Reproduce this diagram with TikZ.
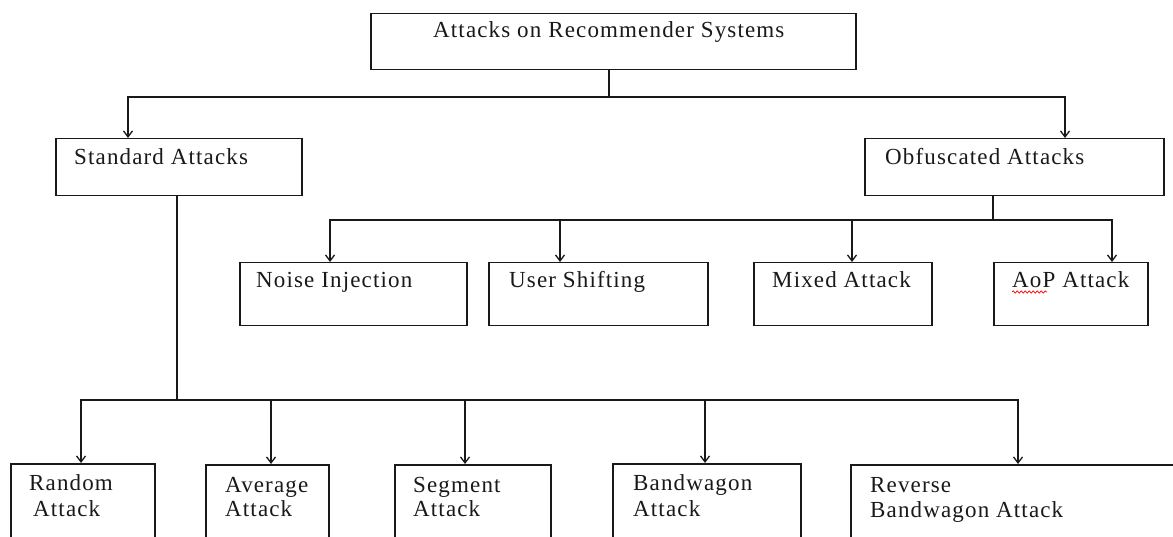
\documentclass[tikz,border=0pt]{standalone}
\usepackage{fontspec}
\usetikzlibrary{arrows.meta,calc,decorations.pathmorphing}
\newfontfamily\lblfont{Liberation Serif}[LetterSpace=5]
\begin{document}
\begin{tikzpicture}[x=1pt,y=-1pt,
  box/.style={draw=black!90, line width=1.5pt, inner sep=0pt, anchor=north west},
  lbl/.style={anchor=base west, inner sep=0pt, font=\lblfont\fontsize{23}{27}\selectfont, text=black!90},
  conn/.style={draw=black!90, line width=1.5pt},
  arr/.style={conn, -{Straight Barb[length=6pt,width=9pt,line width=1.3pt]}}]
\useasboundingbox[fill=white] (0,0) rectangle (1173,537);

% boxes
\node[box, minimum width=485pt, minimum height=56pt] (top) at (370,13) {};
\node[box, minimum width=246pt, minimum height=57pt] (std) at (55,138) {};
\node[box, minimum width=299pt, minimum height=57pt] (obf) at (864,138) {};
\node[box, minimum width=227pt, minimum height=63pt] (noise) at (239,262) {};
\node[box, minimum width=219pt, minimum height=63pt] (user) at (488,262) {};
\node[box, minimum width=178pt, minimum height=63pt] (mixed) at (753,262) {};
\node[box, minimum width=154pt, minimum height=63pt] (aop) at (993,262) {};
\node[box, minimum width=144pt, minimum height=100pt] (random) at (10,463) {};
\node[box, minimum width=123pt, minimum height=100pt] (average) at (205,464) {};
\node[box, minimum width=156pt, minimum height=100pt] (segment) at (394,464) {};
\node[box, minimum width=188pt, minimum height=100pt] (band) at (612,463) {};
\node[box, minimum width=340pt, minimum height=100pt] (rev) at (850,464) {};

% labels
\node[lbl] (ttop) at (433,38) {Attacks on Recommender Systems};
\node[lbl] (tstd) at (74,165) {Standard Attacks};
\node[lbl] (tobf) at (885,165) {Obfuscated Attacks};
\node[lbl] (tnoise) at (256,288) {Noise Injection};
\node[lbl] (tuser) at (509,288) {User Shifting};
\node[lbl] (tmixed) at (772,288) {Mixed Attack};
\node[lbl] (taop) at (1012,288) {AoP Attack};
\draw[red, line width=0.7pt, decorate, decoration={snake, amplitude=1.2pt, segment length=4pt}]
  ($(taop.base west)+(0,4)$) -- ++(35,0);
\node[lbl] (trnd1) at (29,490) {Random};
\node[lbl] (trnd2) at (33,516) {Attack};
\node[lbl] (tavg1) at (225,492) {Average};
\node[lbl] (tavg2) at (225,516) {Attack};
\node[lbl] (tseg1) at (413,492) {Segment};
\node[lbl] (tseg2) at (413,516) {Attack};
\node[lbl] (tband1) at (633,490) {Bandwagon};
\node[lbl] (tband2) at (633,516) {Attack};
\node[lbl] (trev1) at (870,492) {Reverse};
\node[lbl] (trev2) at (870,517) {Bandwagon Attack};

% junctions
\coordinate (j1) at (609,97);
\coordinate (j2) at (993,220);
\coordinate (j3) at (177,400);

% arrow targets on box tops
\coordinate (astd) at ($(std.north west)+(73,0)$);
\coordinate (aobf) at ($(obf.north west)+(201,0)$);
\coordinate (anoise) at ($(noise.north west)+(91,0)$);
\coordinate (auser) at ($(user.north west)+(72,0)$);
\coordinate (amixed) at ($(mixed.north west)+(99,0)$);
\coordinate (aaop) at ($(aop.north west)+(119,0)$);
\coordinate (arandom) at ($(random.north west)+(71,0)$);
\coordinate (aaverage) at ($(average.north west)+(66,0)$);
\coordinate (asegment) at ($(segment.north west)+(71,0)$);
\coordinate (aband) at ($(band.north west)+(93,0)$);
\coordinate (arev) at ($(rev.north west)+(168,0)$);

% top level
\draw[conn] (top.south -| j1) -- (j1);
\draw[arr] (j1) -| (astd);
\draw[arr] (j1) -| (aobf);

% obfuscated children
\draw[conn] (obf.south -| j2) -- (j2);
\draw[arr] (j2) -| (anoise);
\draw[arr] (auser |- j2) -- (auser);
\draw[arr] (amixed |- j2) -- (amixed);
\draw[arr] (j2) -| (aaop);

% standard children
\draw[conn] (std.south -| j3) -- (j3);
\draw[arr] (j3) -| (arandom);
\draw[arr] (aaverage |- j3) -- (aaverage);
\draw[arr] (asegment |- j3) -- (asegment);
\draw[arr] (aband |- j3) -- (aband);
\draw[arr] (j3) -| (arev);
\end{tikzpicture}
\end{document}
